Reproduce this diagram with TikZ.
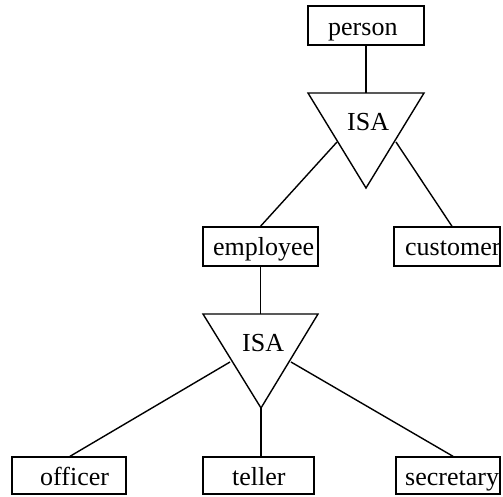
\documentclass[tikz,border=0pt]{standalone}
\usepackage{fontspec}
\setmainfont{Liberation Serif}
\tikzset{
  ent/.style={draw, line width=1.4pt, inner sep=0pt, rectangle},
  lbl/.style={inner sep=0pt, anchor=base west, font=\fontsize{26}{30}\selectfont},
  conn/.style={line width=1.4pt},
  isa/.style={line width=1.4pt, line join=miter}
}
\begin{document}
\begin{tikzpicture}[x=1pt,y=-1pt]
\useasboundingbox (0,0) rectangle (503,496);
% entity boxes
\node[ent, minimum width=116pt, minimum height=39pt] (person) at (366,25.5) {};
\node[ent, minimum width=115pt, minimum height=39pt] (employee) at (260.5,246.5) {};
\node[ent, minimum width=106pt, minimum height=39pt] (customer) at (447,246.5) {};
\node[ent, minimum width=114pt, minimum height=37pt] (officer) at (69,475.5) {};
\node[ent, minimum width=111pt, minimum height=37pt] (teller) at (258.5,475.5) {};
\node[ent, minimum width=104pt, minimum height=37pt] (secretary) at (448,475.5) {};
% labels
\node[lbl] (tperson) at (328,35) {person};
\node[lbl] (temployee) at (213,255) {employee};
\node[lbl] (tcustomer) at (405,255) {customer};
\node[lbl] (tofficer) at (40,485) {officer};
\node[lbl] (tteller) at (232,485) {teller};
\node[lbl] (tsecretary) at (405,485) {secretary};
% ISA triangles
\coordinate (a1l) at (308,93);
\coordinate (a1r) at (424,93);
\coordinate (a1b) at (366,188);
\coordinate (a1t) at (366,93);
\coordinate (a1el) at (337,142);
\coordinate (a1er) at (396,142);
\draw[isa] (a1l) -- (a1r) -- (a1b) -- cycle;
\node[lbl] (isa1) at (347,130.5) {ISA};
\coordinate (a2l) at (203,314);
\coordinate (a2r) at (318,314);
\coordinate (a2b) at (261,408);
\coordinate (a2t) at (260.5,314);
\coordinate (a2el) at (230,362);
\coordinate (a2er) at (291,362);
\draw[isa] (a2l) -- (a2r) -- (a2b) -- cycle;
\node[lbl] (isa2) at (242,351.5) {ISA};
% connectors
\draw[conn] (person.south) -- (a1t);
\draw[conn] (a1el) -- (employee.north);
\draw[conn] (a1er) -- ([xshift=5pt]customer.north);
\draw[conn] (employee.south) -- (a2t);
\draw[conn] (a2el) -- ([xshift=1pt]officer.north);
\draw[conn] (a2b) -- ([xshift=2.5pt]teller.north);
\draw[conn] (a2er) -- ([xshift=5pt]secretary.north);
\end{tikzpicture}
\end{document}
